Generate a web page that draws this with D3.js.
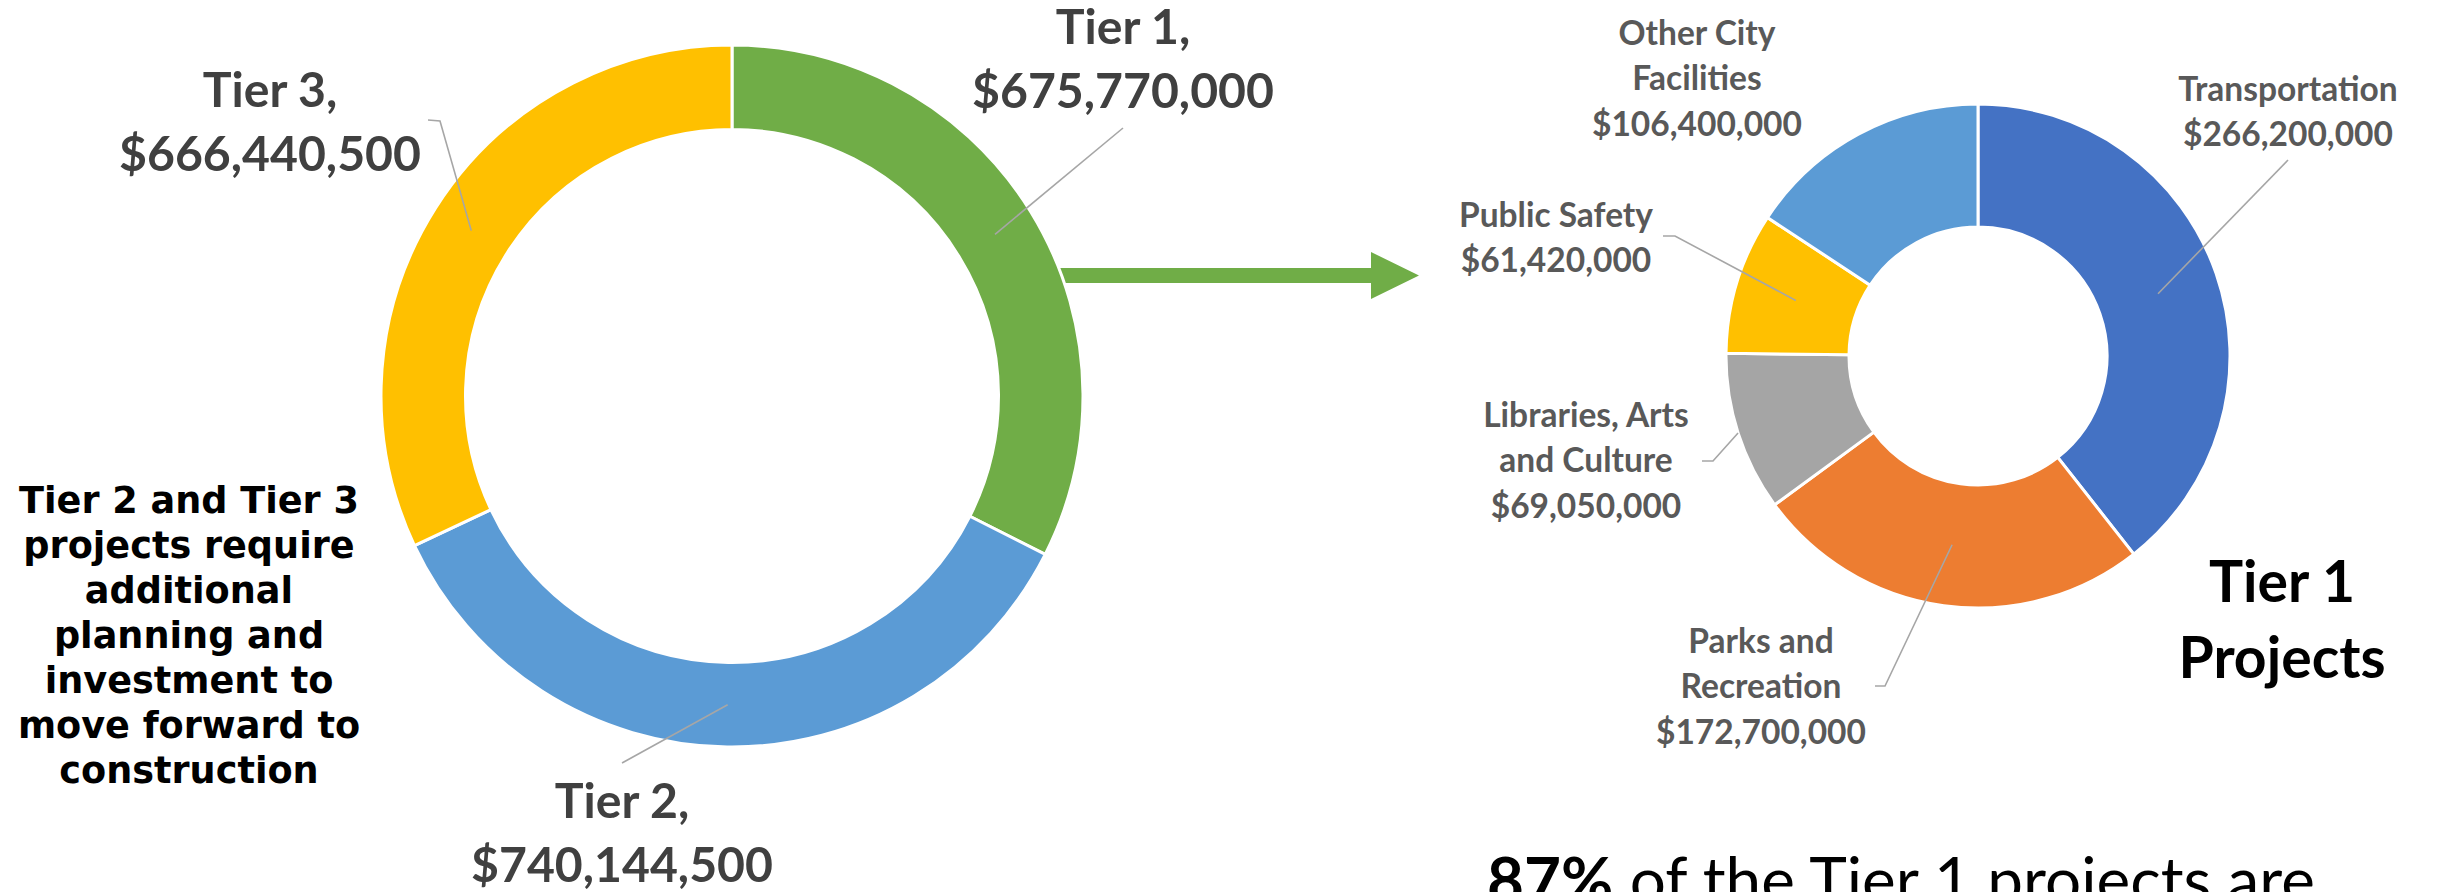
<!DOCTYPE html>
<html><head><meta charset="utf-8">
<script src="https://cdn.jsdelivr.net/npm/d3@7"></script>
<style>html,body{margin:0;padding:0;background:#fff;overflow:hidden}</style>
</head><body><svg id="c" width="2438" height="892"></svg>
<script>
// ---- data ----
const tierNames = ["Tier 1", "Tier 2", "Tier 3"];
const tierValues = [675770000, 740144500, 666440500];
const tierColors = ["#70AD47", "#5B9BD5", "#FFC000"];

const catNames = [["Transportation"], ["Parks and", "Recreation"], ["Libraries, Arts", "and Culture"], ["Public Safety"], ["Other City", "Facilities"]];
const catValues = [266200000, 172700000, 69050000, 61420000, 106400000];
const catColors = ["#4472C4", "#ED7D31", "#A5A5A5", "#FFC000", "#5B9BD5"];

const noteLines = ["Tier 2 and Tier 3", "projects require", "additional", "planning and", "investment to", "move forward to", "construction"];
const subTitleLines = ["Tier 1", "Projects"];
const footBold = "87%";
const footRest = " of the Tier 1 projects are";

// ---- layout ----
const svg = d3.select("#c");
svg.append("rect").attr("width", 2438).attr("height", 892).attr("fill", "#fff");
const fmt = d3.format(",");
const LATO = "Lato, 'Open Sans', sans-serif";

function fitSize(text, family, weight, target) {
  const t = svg.append("text").attr("font-family", family).attr("font-weight", weight)
    .attr("font-size", 100).text(text);
  const w = t.node().getComputedTextLength();
  t.remove();
  return 100 * target / w;
}

const big = {cx: 732, cy: 396, ro: 351, ri: 266.5};
const small = {cx: 1978, cy: 356, ro: 252, ri: 129};

const bigLayout = [
  {x: 1123, y: 44, leader: [[1123, 128]], end: "c"},
  {x: 622, y: 818, leader: [[622, 763]], end: "c"},
  {x: 270, y: 107, leader: [[428, 120], [440, 121]], end: "c"}
];
const smallLayout = [
  {x: 2288, y: 101, leader: [[2288, 160]], end: "c"},
  {x: 1761, y: 653, leader: [[1875, 686], [1885, 686]], end: "c"},
  {x: 1586, y: 427, leader: [[1702, 461], [1713, 461]], end: "o"},
  {x: 1556, y: 227, leader: [[1663, 236], [1675, 236]], end: "c"},
  {x: 1697, y: 45, leader: null, end: null}
];

// ---- arrow (under the ring) ----
const aY = 275.5, aHalf = 7.5, aBase = 1371, aHead = 23.5, aTip = 1419, aStart = big.cx + 300;
svg.append("path")
  .attr("d", `M${aStart},${aY - aHalf}L${aBase},${aY - aHalf}L${aBase},${aY - aHead}L${aTip},${aY}L${aBase},${aY + aHead}L${aBase},${aY + aHalf}L${aStart},${aY + aHalf}Z`)
  .attr("fill", "#70AD47");

function donut(conf, values, colors, layout, labelLines, fs, lh, labelColor) {
  const pie = d3.pie().sort(null).value(d => d)(values);
  const arc = d3.arc().innerRadius(conf.ri).outerRadius(conf.ro);
  const g = svg.append("g").attr("transform", `translate(${conf.cx},${conf.cy})`);
  g.selectAll("path").data(pie).join("path")
    .attr("d", arc)
    .attr("fill", (d, i) => colors[i])
    .attr("stroke", "#fff").attr("stroke-width", 3).attr("stroke-linejoin", "bevel");

  pie.forEach((d, i) => {
    const L = layout[i];
    if (L.leader) {
      const a = (d.startAngle + d.endAngle) / 2;
      const r = L.end === "o" ? conf.ro : (conf.ri + conf.ro) / 2;
      const pt = [conf.cx + r * Math.sin(a), conf.cy - r * Math.cos(a)];
      const pts = L.leader.concat([pt]);
      svg.append("path").attr("d", d3.line()(pts))
        .attr("fill", "none").attr("stroke", "#A6A6A6").attr("stroke-width", 1.6);
    }
    const lines = labelLines(i, d);
    const t = svg.append("text").attr("text-anchor", "middle")
      .attr("font-family", LATO).attr("font-weight", 700)
      .attr("font-size", fs).attr("fill", labelColor);
    lines.forEach((s, k) => t.append("tspan").attr("x", L.x).attr("y", L.y + k * lh).text(s));
  });
}

const bigFs = fitSize("$675,770,000", LATO, 700, 302);
const smallFs = fitSize("$106,400,000", LATO, 700, 210);

donut(big, tierValues, tierColors, bigLayout,
  (i, d) => [tierNames[i] + ",", "$" + fmt(d.value)], bigFs, 64, "#404040");
donut(small, catValues, catColors, smallLayout,
  (i, d) => catNames[i].concat(["$" + fmt(d.value)]), smallFs, 45.3, "#595959");

// ---- left note ----
const DV = "'DejaVu Sans', Verdana, sans-serif";
const noteFs = fitSize(noteLines[0], DV, 700, 340);
const note = svg.append("text").attr("text-anchor", "middle").attr("font-family", DV)
  .attr("font-weight", 700).attr("font-size", noteFs).attr("fill", "#000");
noteLines.forEach((s, k) => note.append("tspan").attr("x", 189).attr("y", 513 + k * 45).text(s));

// ---- Tier 1 Projects title ----
const stFs = fitSize(subTitleLines[1], LATO, 700, 207);
const st = svg.append("text").attr("text-anchor", "middle").attr("font-family", LATO)
  .attr("font-weight", 700).attr("font-size", stFs).attr("fill", "#000");
subTitleLines.forEach((s, k) => st.append("tspan").attr("x", 2282).attr("y", 602 + k * 76).text(s));

// ---- footnote (cut at bottom) ----
const tmp = svg.append("text").attr("font-family", LATO).attr("font-size", 100);
tmp.append("tspan").attr("font-weight", 700).text(footBold);
tmp.append("tspan").attr("font-weight", 400).text(footRest);
const fw = tmp.node().getComputedTextLength();
tmp.remove();
const footFs = 100 * 828 / fw;
const foot = svg.append("text").attr("x", 1487).attr("y", 857 + 0.72 * footFs)
  .attr("font-family", LATO).attr("font-size", footFs).attr("fill", "#000");
foot.append("tspan").attr("font-weight", 700).text(footBold);
foot.append("tspan").attr("font-weight", 400).text(footRest);
</script>
</body></html>
